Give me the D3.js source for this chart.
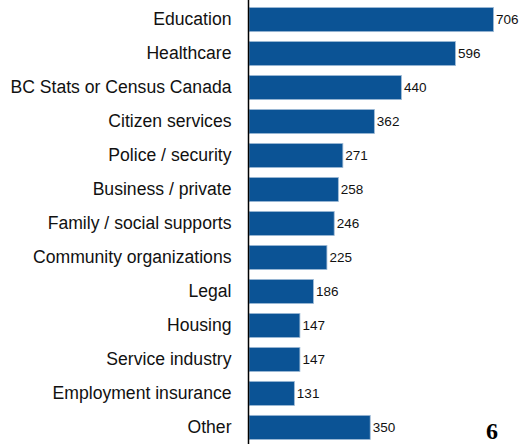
<!DOCTYPE html>
<html>
<head>
<meta charset="utf-8">
<script src="https://cdn.jsdelivr.net/npm/d3@7"></script>
<style>
  body { margin: 0; background: #fff; }
  svg { display: block; }
  .yAxis text { font-family: 'Liberation Sans', Arial, sans-serif; font-size: 17.6px; fill: #111; }
  .label { font-family: 'Liberation Sans', Arial, sans-serif; font-size: 13.5px; fill: #111; }
  .pageNo { font-family: 'Liberation Serif', 'DejaVu Serif', serif; font-size: 24px; font-weight: bold; fill: #000; }
</style>
</head>
<body>
<svg width="519" height="444"></svg>
<script>
//## DATA ##
const categories = ['Education', 'Healthcare', 'BC Stats or Census Canada', 'Citizen services', 'Police / security',
  'Business / private', 'Family / social supports', 'Community organizations', 'Legal', 'Housing',
  'Service industry', 'Employment insurance', 'Other']
const counts = [706, 596, 440, 362, 271, 258, 246, 225, 186, 147, 147, 131, 350]
const pageNumber = '6'

//## D3 VARIABLES ##
const svg = d3.select('svg')
const width = 519
const height = 444
const axisX = 248.5
const data = categories.map((c, i) => ({ category: c, count: counts[i] }))

//-- Scales --
const scaleX = d3.scaleLinear()
  .domain([0, 706])
  .range([axisX + 0.5, 493.5])

const scaleY = d3.scaleBand()
  .domain(categories)
  .range([7.5, 439.5])
  .paddingInner(0.29)
  .paddingOuter(0)

//-- Bars --
svg.selectAll('.bar').data(data)
  .enter().append('rect')
    .attr('class', 'bar')
    .attr('x', scaleX(0))
    .attr('y', d => scaleY(d.category))
    .attr('width', d => scaleX(d.count) - scaleX(0))
    .attr('height', scaleY.bandwidth())
    .attr('fill', '#0b5395')
    .attr('stroke', '#9fbbd6')
    .attr('stroke-width', 0.8)

//-- Value labels --
svg.selectAll('.label').data(data)
  .enter().append('text')
    .attr('class', 'label')
    .attr('x', d => scaleX(d.count) + 2.5)
    .attr('y', d => scaleY(d.category) + scaleY.bandwidth() / 2)
    .attr('dy', '0.35em')
    .text(d => d.count)

//-- Category axis --
const yAxisGroup = svg.append('g')
  .attr('class', 'yAxis')
  .attr('transform', 'translate(' + axisX + ',0)')
  .call(d3.axisLeft(scaleY).tickSize(0).tickPadding(17))

yAxisGroup.select('.domain').remove()
yAxisGroup.selectAll('text').attr('font-family', null).attr('font-size', null)

svg.append('line')
  .attr('x1', axisX).attr('x2', axisX)
  .attr('y1', 0).attr('y2', height)
  .attr('stroke', '#000')
  .attr('stroke-width', 1.5)

//-- Page number --
svg.append('text')
  .attr('class', 'pageNo')
  .attr('x', 492)
  .attr('y', 439)
  .attr('text-anchor', 'middle')
  .text(pageNumber)
</script>
</body>
</html>
